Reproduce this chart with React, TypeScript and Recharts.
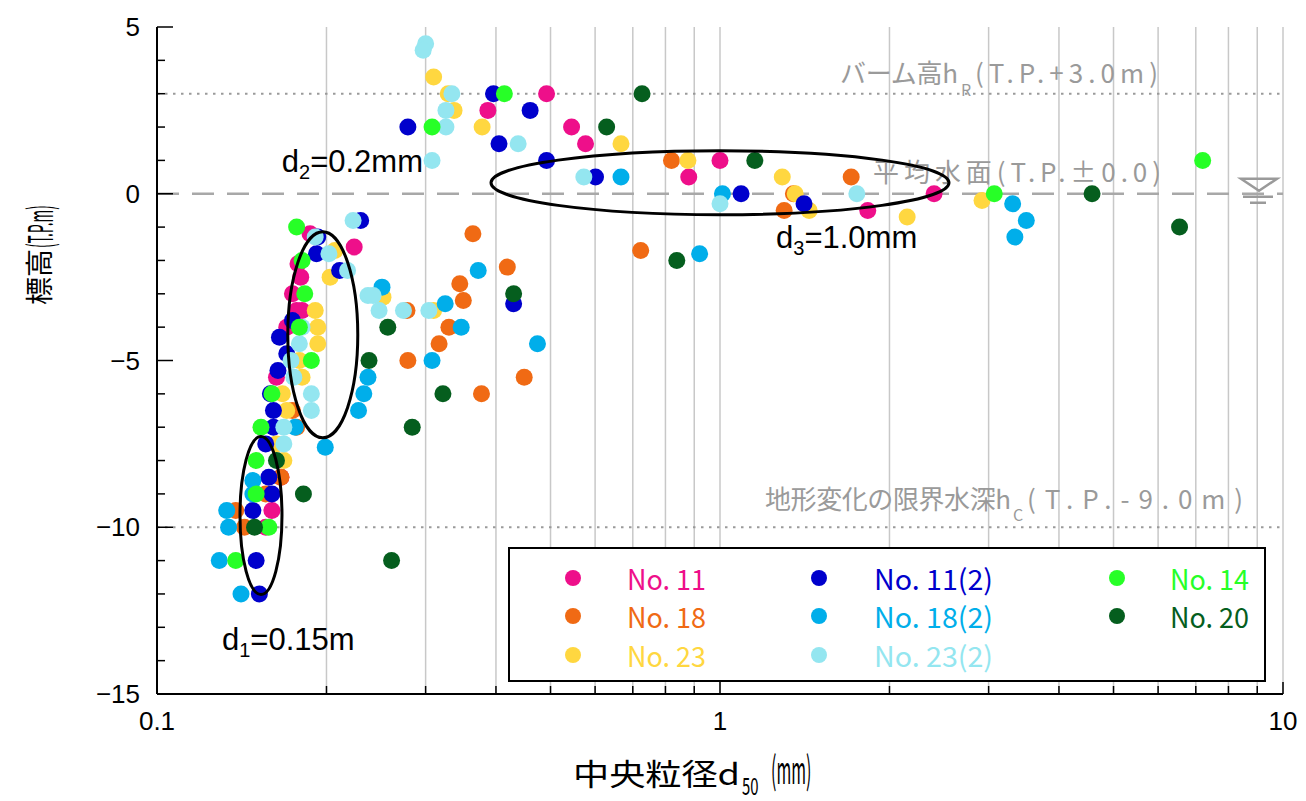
import React from "react";
import {
  ScatterChart,
  Scatter,
  XAxis,
  YAxis,
  CartesianGrid,
  ReferenceLine,
  ReferenceDot,
  Legend,
} from "recharts";

// axis ticks
const xTicks = [0.1, 0.2, 0.3, 0.4, 0.5, 0.6, 0.7, 0.8, 0.9, 1, 2, 3, 4, 5, 6, 7, 8, 9, 10];
const xMajor = [0.1, 1, 10];
const yTicks = [-15, -14, -13, -12, -11, -10, -9, -8, -7, -6, -5, -4, -3, -2, -1, 0, 1, 2, 3, 4, 5];

// [d50 (mm), elevation (T.P.m)]
const no11 = [
  [0.387, 2.5], [0.492, 3], [0.545, 2], [0.577, 1.5], [1.0, 1], [0.88, 0.5], [1.83, -0.5], [2.4, 0],
  [0.224, -1.6], [0.187, -1.2], [0.178, -2.1], [0.18, -2.5], [0.174, -3], [0.177, -3.5], [0.181, -3.5],
  [0.17, -4], [0.163, -5.5], [0.166, -8.5], [0.16, -9.5], [0.156, -10],
];
const no18 = [
  [0.82, 1], [1.71, 0.5], [1.35, 0], [1.3, -0.5], [0.723, -1.7], [0.364, -1.2], [0.419, -2.2],
  [0.345, -2.7], [0.35, -3.2], [0.33, -4], [0.317, -4.5], [0.279, -5], [0.377, -6], [0.449, -5.5],
  [0.278, -3.5], [0.174, -6.5], [0.177, -7], [0.166, -8.5], [0.156, -9], [0.138, -9.5], [0.143, -10],
];
const no23 = [
  [0.31, 3.5], [0.329, 3], [0.337, 2.5], [0.378, 2], [0.667, 1.5], [0.877, 1], [1.29, 0.5], [1.36, 0],
  [1.44, -0.5], [2.15, -0.7], [2.92, -0.2], [0.252, -3.1], [0.31, -3.5], [0.207, -1.7], [0.203, -2.5],
  [0.191, -3.5], [0.193, -4], [0.193, -4.5], [0.179, -5], [0.181, -5.5], [0.167, -6], [0.17, -6.5],
  [0.163, -7.5], [0.168, -8],
];
const no11b = [
  [0.279, 2], [0.396, 3], [0.405, 1.5], [0.46, 2.5], [0.492, 1], [0.601, 0.5], [1.09, 0], [1.41, -0.3],
  [0.23, -0.8], [0.211, -2.3], [0.43, -3.3], [0.193, -1.3], [0.192, -1.8], [0.174, -3.8], [0.165, -4.3],
  [0.17, -4.8], [0.164, -5.3], [0.159, -6], [0.161, -6.5], [0.161, -7], [0.156, -7.5], [0.158, -8.5],
  [0.16, -9], [0.148, -9.5], [0.15, -11], [0.152, -12],
];
const no18b = [
  [0.667, 0.5], [1.01, 0], [3.31, -0.3], [3.5, -0.8], [3.34, -1.3], [0.92, -1.8], [0.251, -2.8],
  [0.372, -2.3], [0.325, -3.3], [0.347, -4], [0.308, -5], [0.474, -4.5], [0.237, -5.5], [0.233, -6],
  [0.228, -6.5], [0.199, -7.6], [0.176, -7], [0.148, -8.6], [0.148, -9], [0.133, -9.5], [0.134, -10],
  [0.129, -11], [0.141, -12],
];
const no23b = [
  [0.3, 4.5], [0.297, 4.3], [0.334, 3], [0.326, 2.5], [0.326, 2], [0.308, 1], [0.438, 1.5], [0.573, 0.5],
  [1.0, -0.3], [1.75, 0], [0.223, -0.8], [0.218, -2.3], [0.237, -3.05], [0.242, -3.05], [0.248, -3.5],
  [0.274, -3.5], [0.304, -3.5], [0.191, -1.3], [0.202, -1.8], [0.181, -4], [0.179, -4.5], [0.173, -5],
  [0.175, -5.5], [0.188, -6], [0.188, -6.5], [0.168, -7], [0.168, -7.5],
];
const no14 = [
  [0.308, 2], [0.414, 3], [3.07, 0], [7.2, 1], [0.177, -1], [0.181, -2], [0.183, -3], [0.179, -4],
  [0.188, -5], [0.16, -6], [0.153, -7], [0.15, -8], [0.15, -9], [0.158, -10], [0.138, -11],
];
const no20 = [
  [0.629, 2], [0.727, 3], [1.153, 1], [4.58, 0], [6.55, -1], [0.838, -2], [0.257, -4], [0.238, -5],
  [0.322, -6], [0.284, -7], [0.43, -3], [0.261, -11], [0.163, -8], [0.182, -9], [0.149, -10],
];

const seriesNames = ["No. 11", "No. 18", "No. 23", "No. 11(2)", "No. 18(2)", "No. 23(2)", "No. 14", "No. 20"];
const seriesColors = ["#ee0f8a", "#f06a14", "#ffd740", "#0000cc", "#00aeea", "#94e6f0", "#27ff27", "#055e1e"];
const seriesData = [no11, no18, no23, no11b, no18b, no23b, no14, no20];

const JP = "'Noto Sans CJK JP', 'Noto Sans', sans-serif";
const AR = "'Liberation Sans', Arial, sans-serif";
const GRAY = "#9a9a9a";

const toPts = (a: number[][]) => a.map(([x, y]) => ({ x, y }));

const dot = (color: string) => (p: any) => <circle cx={p.cx} cy={p.cy} r={8.5} fill={color} />;

const LeftTick = (p: any) => {
  const v = p.payload.value;
  const major = v % 5 === 0;
  return (
    <g>
      <line x1={p.x} x2={p.x + (major ? 16 : 8)} y1={p.y} y2={p.y} stroke="#000" strokeWidth={1.5} />
      {major && (
        <text x={p.x - 17} y={p.y} textAnchor="end" dominantBaseline="central" fontSize={26} fontFamily={AR} fill="#000">
          {v < 0 ? `\u2212${-v}` : v}
        </text>
      )}
    </g>
  );
};

const RightTick = (p: any) => {
  const major = p.payload.value % 5 === 0;
  return <line x1={p.x} x2={p.x - (major ? 16 : 8)} y1={p.y} y2={p.y} stroke="#000" strokeWidth={1.5} />;
};

const BottomTick = (p: any) => {
  const v = p.payload.value;
  const major = xMajor.includes(v);
  return (
    <g>
      <line x1={p.x} x2={p.x} y1={p.y} y2={p.y - (major ? 12 : 8)} stroke="#000" strokeWidth={1.5} />
      {major && (
        <text x={p.x} y={p.y + 36} textAnchor="middle" fontSize={26} fontFamily={AR} fill="#000">
          {v}
        </text>
      )}
    </g>
  );
};

const TopTick = (p: any) => {
  const major = xMajor.includes(p.payload.value);
  return <line x1={p.x} x2={p.x} y1={p.y} y2={p.y + (major ? 12 : 8)} stroke="#000" strokeWidth={1.5} />;
};

const ellipse = (rx: number, ry: number, label: string, sub: string, dx: number, dy: number) => (p: any) => (
  <g>
    <ellipse cx={p.cx} cy={p.cy} rx={rx} ry={ry} fill="none" stroke="#000" strokeWidth={3} />
    <text x={p.cx + dx} y={p.cy + dy} fontSize={31} fontFamily={AR} fill="#000">
      d<tspan fontSize={20} dy={7}>{sub}</tspan>
      <tspan dy={-7}>{label}</tspan>
    </text>
  </g>
);

const BermLabel = (p: any) => (
  <g fill={GRAY} fontFamily={JP}>
    <text x={p.cx - 443} y={p.cy - 11} fontSize={26} textLength={118} lengthAdjust="spacing">バーム高h</text>
    <text x={p.cx - 322} y={p.cy + 2} fontSize={16}>R</text>
    <text x={p.cx - 308} y={p.cy - 11} fontSize={26} textLength={183} lengthAdjust="spacing">(T.P.+3.0m)</text>
  </g>
);

const MslLabel = (p: any) => (
  <g>
    <text x={p.cx - 410} y={p.cy - 12} fontSize={26} fill={GRAY} fontFamily={JP} textLength={288} lengthAdjust="spacing">
      平均水面(T.P.±0.0)
    </text>
    <polygon points={`${p.cx - 42},${p.cy - 15} ${p.cx - 6},${p.cy - 15} ${p.cx - 24},${p.cy - 3}`} fill="none" stroke={GRAY} strokeWidth={2.5} />
    <line x1={p.cx - 40} x2={p.cx - 10} y1={p.cy + 3} y2={p.cy + 3} stroke={GRAY} strokeWidth={2.5} />
    <line x1={p.cx - 33} x2={p.cx - 17} y1={p.cy + 9} y2={p.cy + 9} stroke={GRAY} strokeWidth={2.5} />
  </g>
);

const ClosureLabel = (p: any) => (
  <g fill={GRAY} fontFamily={JP}>
    <text x={p.cx - 518} y={p.cy - 18} fontSize={26} textLength={246} lengthAdjust="spacing">地形変化の限界水深h</text>
    <text x={p.cx - 270} y={p.cy - 6} fontSize={16}>C</text>
    <text x={p.cx - 256} y={p.cy - 18} fontSize={26} textLength={216} lengthAdjust="spacing">(T.P.-9.0m)</text>
  </g>
);

const LegendBox = ({ payload }: any) => (
  <svg width={758} height={135} style={{ display: "block" }}>
    <rect x={1} y={1} width={756} height={133} fill="#fff" stroke="#000" strokeWidth={2} />
    {(payload || []).map((e: any) => {
      const i = seriesNames.indexOf(String(e.value));
      const col = Math.floor(i / 3);
      const cy = [31, 69, 108][i % 3];
      return (
        <g key={e.value}>
          <circle cx={[65, 311, 609][col]} cy={cy} r={8} fill={e.color} />
          <text
            x={[119, 366, 662][col]}
            y={cy}
            dominantBaseline="central"
            fontSize={28}
            fontFamily={JP}
            fill={e.color}
            textLength={String(e.value).length > 6 ? 119 : 79}
            lengthAdjust="spacingAndGlyphs"
          >
            {e.value}
          </text>
        </g>
      );
    })}
  </svg>
);

export default function App() {
  return (
    <div style={{ position: "relative", width: 1290, height: 793 }}>
      <ScatterChart width={1290} height={793} margin={{ top: 19, right: 15, left: 59, bottom: 47 }}>
        <CartesianGrid horizontal={false} stroke="#c8c8c8" strokeWidth={1.5} />
        <XAxis
          dataKey="x"
          type="number"
          scale="log"
          domain={[0.1, 10]}
          allowDataOverflow
          ticks={xTicks}
          interval={0}
          height={60}
          tickSize={0}
          tickMargin={0}
          tickLine={false}
          axisLine={{ stroke: "#000", strokeWidth: 2 }}
          tick={BottomTick}
          label={{
            content: (pr: any) => {
              const vb = pr.viewBox;
              return (
                <g fill="#000" fontFamily={JP}>
                  <text x={vb.x + 416} y={vb.y + 91} fontSize={30} textLength={167} lengthAdjust="spacingAndGlyphs">中央粒径d</text>
                  <g transform={`translate(${vb.x + 585},${vb.y + 101}) scale(0.62,1)`}>
                    <text x={0} y={0} fontSize={24}>50</text>
                  </g>
                  <g transform={`translate(${vb.x + 614},${vb.y + 90}) scale(0.42,1)`}>
                    <text x={0} y={0} fontSize={38}>(mm)</text>
                  </g>
                </g>
              );
            },
          }}
        />
        <XAxis
          xAxisId="top"
          orientation="top"
          type="number"
          scale="log"
          domain={[0.1, 10]}
          allowDataOverflow
          ticks={xTicks}
          interval={0}
          height={0}
          tickSize={0}
          tickMargin={0}
          tickLine={false}
          axisLine={{ stroke: "#000", strokeWidth: 2 }}
          tick={TopTick}
        />
        <YAxis
          dataKey="y"
          type="number"
          domain={[-15, 5]}
          allowDataOverflow
          ticks={yTicks}
          interval={0}
          width={90}
          tickSize={0}
          tickMargin={0}
          tickLine={false}
          axisLine={{ stroke: "#000", strokeWidth: 2 }}
          tick={LeftTick}
          label={{
            content: (pr: any) => {
              const vb = pr.viewBox;
              return (
                <g transform={`translate(${vb.x - 29},${vb.y + 228}) rotate(-90)`} fill="#000" fontFamily={JP}>
                  <text x={-50} y={0} dominantBaseline="central" fontSize={28}>
                    標高
                  </text>
                  <g transform="translate(7,0) scale(0.4,1)">
                    <text x={0} y={0} dominantBaseline="central" fontSize={34}>
                      (T.P.m)
                    </text>
                  </g>
                </g>
              );
            },
          }}
        />
        <YAxis
          yAxisId="right"
          orientation="right"
          type="number"
          domain={[-15, 5]}
          allowDataOverflow
          ticks={yTicks}
          interval={0}
          width={0}
          tickSize={0}
          tickMargin={0}
          tickLine={false}
          axisLine={{ stroke: "#000", strokeWidth: 2 }}
          tick={RightTick}
        />
        <ReferenceLine y={3} stroke={GRAY} strokeWidth={2} strokeDasharray="2.5 5.5" />
        <ReferenceLine y={-10} stroke={GRAY} strokeWidth={2} strokeDasharray="2.5 5.5" />
        <ReferenceLine y={0} stroke="#a8a8a8" strokeWidth={2.5} strokeDasharray="22 13" />
        <ReferenceDot x={10} y={3} ifOverflow="visible" shape={BermLabel} />
        <ReferenceDot x={10} y={0} ifOverflow="visible" shape={MslLabel} />
        <ReferenceDot x={10} y={-10} ifOverflow="visible" shape={ClosureLabel} />
        {seriesData.map((d, i) => (
          <Scatter
            key={seriesNames[i]}
            name={seriesNames[i]}
            data={toPts(d)}
            fill={seriesColors[i]}
            shape={dot(seriesColors[i])}
            isAnimationActive={false}
          />
        ))}
        <ReferenceDot x={0.153} y={-9.65} ifOverflow="visible" shape={ellipse(21, 79, "=0.15m", "1", -39, 134)} />
        <ReferenceDot x={0.197} y={-4.23} ifOverflow="visible" shape={ellipse(35, 103, "=0.2mm", "2", -41, -163)} />
        <ReferenceDot x={1.0} y={0.33} ifOverflow="visible" shape={ellipse(229, 32, "=1.0mm", "3", 56, 65)} />
        <Legend
          verticalAlign="middle"
          layout="horizontal"
          content={LegendBox}
          wrapperStyle={{ position: "absolute", left: 500, top: 539, width: 758, height: 135 }}
        />
      </ScatterChart>
    </div>
  );
}
